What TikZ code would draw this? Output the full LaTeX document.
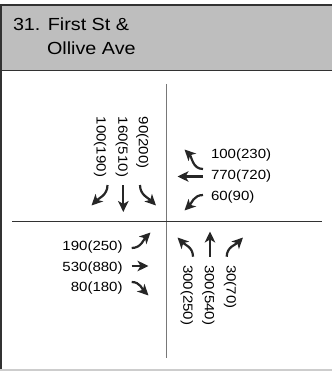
\documentclass[tikz,border=0pt]{standalone}
\usepackage{fontspec}
\setmainfont{Liberation Sans}[FakeStretch=1.13]
\usetikzlibrary{arrows.meta}
\definecolor{hdrgray}{RGB}{190,190,190}
\definecolor{frame}{RGB}{50,50,50}
\definecolor{roadv}{RGB}{120,120,120}
\definecolor{bottomline}{RGB}{205,205,205}
\begin{document}
\begin{tikzpicture}[x=1pt,y=1pt,
  vol/.style={inner sep=0pt, font=\fontsize{13.3}{15}\selectfont},
  rvol/.style={vol, rotate=-90, anchor=west},
  mv/.style={line width=2.2pt, draw=black!85, -{Stealth[length=11pt,width=10.5pt,inset=3pt]}},
  title/.style={inner sep=0pt, anchor=base west, font=\fontsize{17.5}{21}\selectfont}]
\useasboundingbox (0,0) rectangle (332,-371);
% header
\fill[hdrgray] (1,-5) rectangle (332,-71);
\draw[frame, line width=1.2pt] (0,-5) -- (332,-5);
\draw[frame, line width=1pt] (1,-71) -- (332,-71);
\draw[frame, line width=1.4pt] (1,-5) -- (1,-370);
\draw[bottomline, line width=1.2pt] (0,-370) -- (332,-370);
\node[title] (t1) at (12.8,-31) {31. First St \&};
\node[title] (t2) at (46.8,-54.5) {Ollive Ave};
% roads
\draw[roadv, line width=1.4pt] (166.5,-84) -- (166.5,-358);
\draw[frame, line width=1.4pt] (12,-221.5) -- (322,-221.5);
% NW (southbound)
\node[rvol] (nw1) at (100,-116.7) {100(190)};
\node[rvol] (nw2) at (121.7,-116.7) {160(510)};
\node[rvol] (nw3) at (142.3,-116.7) {90(200)};
\draw[mv] (107.5,-185) to[out=-90,in=45] (91.5,-205.5);
\draw[mv] (123.3,-185) -- (123.3,-212);
\draw[mv] (140,-185) to[out=-90,in=135] (156,-205.5);
% NE (westbound)
\node[vol, anchor=west] (ne1) at (210.8,-155) {100(230)};
\node[vol, anchor=west] (ne2) at (210.8,-176) {770(720)};
\node[vol, anchor=west] (ne3) at (210.8,-197) {60(90)};
\draw[mv] (203,-169) to[out=180,in=-45] (184.5,-149.5);
\draw[mv] (203,-176.5) -- (177.5,-176.5);
\draw[mv] (203,-195) to[out=180,in=45] (184.5,-210.5);
% SW (eastbound)
\node[vol, anchor=east] (sw1) at (122.8,-247.5) {190(250)};
\node[vol, anchor=east] (sw2) at (122.8,-268.5) {530(880)};
\node[vol, anchor=east] (sw3) at (122.8,-288) {80(180)};
\draw[mv] (131.7,-248) to[out=0,in=-135] (150.5,-232.5);
\draw[mv] (131.7,-266) -- (148.5,-266);
\draw[mv] (131.7,-282) to[out=0,in=135] (148.5,-295.5);
% SE (northbound)
\node[rvol] (se1) at (186.7,-265) {300(250)};
\node[rvol] (se2) at (208.3,-265) {300(540)};
\node[rvol] (se3) at (230,-265) {30(70)};
\draw[mv] (193,-256.7) to[out=90,in=-45] (177.5,-237.5);
\draw[mv] (210,-256.7) -- (210,-231.5);
\draw[mv] (226.7,-256.7) to[out=90,in=-135] (243,-237.5);
\end{tikzpicture}
\end{document}
